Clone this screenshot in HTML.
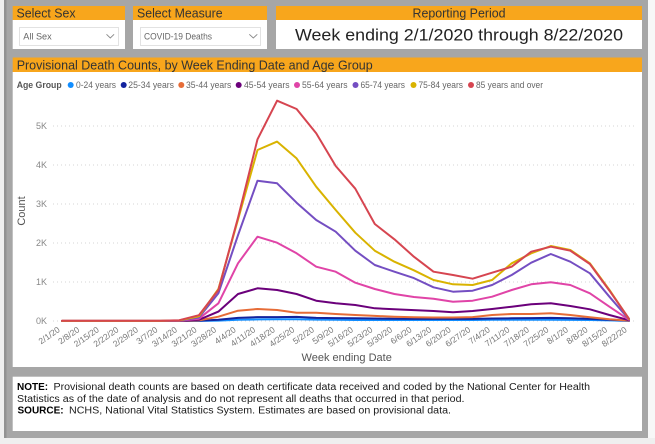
<!DOCTYPE html>
<html><head><meta charset="utf-8"><style>
html,body{margin:0;padding:0;background:#efefef;}
svg{display:block;font-family:"Liberation Sans",Arial,sans-serif;}
</style></head><body>
<svg width="655" height="444" viewBox="0 0 655 444" xmlns="http://www.w3.org/2000/svg">
<rect x="0" y="0" width="655" height="444" fill="#efefef"/>
<rect x="648" y="0" width="7" height="438" fill="#f7f7f7"/>
<rect x="4" y="0" width="644" height="438" fill="#a6a6a6"/>
<rect x="4" y="0" width="2.5" height="438" fill="#929292"/>

<!-- Select Sex -->
<rect x="12.7" y="6" width="112.3" height="14" fill="#f8a61c"/>
<rect x="12.7" y="20" width="112.3" height="29" fill="#ffffff"/>
<text x="16.5" y="17.7" font-size="13" fill="#333" textLength="59" lengthAdjust="spacingAndGlyphs">Select Sex</text>
<rect x="19.5" y="27.5" width="99" height="18" fill="#fff" stroke="#e2e2e2" stroke-width="1"/>
<text x="23.3" y="39.3" font-size="9" fill="#666" textLength="28.4" lengthAdjust="spacingAndGlyphs">All Sex</text>
<polyline points="106.5,34.3 110.3,38 114.1,34.3" fill="none" stroke="#888" stroke-width="0.9"/>

<!-- Select Measure -->
<rect x="133" y="6" width="134" height="14" fill="#f8a61c"/>
<rect x="133" y="20" width="134" height="29" fill="#ffffff"/>
<text x="137" y="17.7" font-size="13" fill="#333" textLength="85.6" lengthAdjust="spacingAndGlyphs">Select Measure</text>
<rect x="140.5" y="27.5" width="120" height="18" fill="#fff" stroke="#e2e2e2" stroke-width="1"/>
<text x="144" y="39.3" font-size="9" fill="#666" textLength="68" lengthAdjust="spacingAndGlyphs">COVID-19 Deaths</text>
<polyline points="249.3,34.3 253.3,38 257.3,34.3" fill="none" stroke="#888" stroke-width="0.9"/>

<!-- Reporting Period -->
<rect x="276" y="6" width="366" height="14" fill="#f8a61c"/>
<rect x="276" y="20" width="366" height="29" fill="#ffffff"/>
<text x="412.5" y="17.7" font-size="13" fill="#333" textLength="93" lengthAdjust="spacingAndGlyphs">Reporting Period</text>
<text x="295" y="40.3" font-size="17" fill="#222" textLength="328" lengthAdjust="spacingAndGlyphs">Week ending 2/1/2020 through 8/22/2020</text>

<!-- Chart panel -->
<rect x="12.7" y="57.5" width="629.3" height="14.5" fill="#f8a61c"/>
<rect x="12.7" y="72" width="629.3" height="295" fill="#ffffff"/>
<text x="16.7" y="69.5" font-size="13" fill="#333" textLength="356" lengthAdjust="spacingAndGlyphs">Provisional Death Counts, by Week Ending Date and Age Group</text>

<!-- Legend -->
<g font-size="9">
<text x="16.7" y="88" font-weight="bold" fill="#555" textLength="45" lengthAdjust="spacingAndGlyphs">Age Group</text>
<circle cx="70.7" cy="85" r="3" fill="#118dff"/>
<text x="76" y="88" fill="#666" textLength="40" lengthAdjust="spacingAndGlyphs">0-24 years</text>
<circle cx="123.7" cy="85" r="3" fill="#12239e"/>
<text x="128.3" y="88" fill="#666" textLength="45.7" lengthAdjust="spacingAndGlyphs">25-34 years</text>
<circle cx="181.3" cy="85" r="3" fill="#e66c37"/>
<text x="186" y="88" fill="#666" textLength="45.3" lengthAdjust="spacingAndGlyphs">35-44 years</text>
<circle cx="238.7" cy="85" r="3" fill="#6b007b"/>
<text x="244" y="88" fill="#666" textLength="45.5" lengthAdjust="spacingAndGlyphs">45-54 years</text>
<circle cx="297" cy="85" r="3" fill="#e044a7"/>
<text x="302" y="88" fill="#666" textLength="45.5" lengthAdjust="spacingAndGlyphs">55-64 years</text>
<circle cx="355.5" cy="85" r="3" fill="#744ec2"/>
<text x="360.5" y="88" fill="#666" textLength="44.5" lengthAdjust="spacingAndGlyphs">65-74 years</text>
<circle cx="413.5" cy="85" r="3" fill="#d9b300"/>
<text x="418.5" y="88" fill="#666" textLength="44.5" lengthAdjust="spacingAndGlyphs">75-84 years</text>
<circle cx="471" cy="85" r="3" fill="#d64550"/>
<text x="476" y="88" fill="#666" textLength="67" lengthAdjust="spacingAndGlyphs">85 years and over</text>
</g>

<!-- Gridlines -->
<g stroke="#d4d4d4" stroke-width="1" stroke-dasharray="1,3">
<line x1="53" y1="126" x2="637" y2="126"/>
<line x1="53" y1="165" x2="637" y2="165"/>
<line x1="53" y1="204" x2="637" y2="204"/>
<line x1="53" y1="243" x2="637" y2="243"/>
<line x1="53" y1="282" x2="637" y2="282"/>
<line x1="53" y1="321" x2="637" y2="321"/>
</g>
<g font-size="9" fill="#888" text-anchor="end">
<text x="47" y="129">5K</text>
<text x="47" y="168">4K</text>
<text x="47" y="207">3K</text>
<text x="47" y="246">2K</text>
<text x="47" y="285">1K</text>
<text x="47" y="324">0K</text>
</g>
<text transform="translate(25,211) rotate(-90)" text-anchor="middle" font-size="11" fill="#555">Count</text>
<text x="346.7" y="361" text-anchor="middle" font-size="11" fill="#555">Week ending Date</text>

<!-- X tick labels -->
<g font-size="8.5" fill="#777" text-anchor="end">
<text transform="translate(60.5,331) rotate(-35)">2/1/20</text>
<text transform="translate(80.1,331) rotate(-35)">2/8/20</text>
<text transform="translate(99.6,331) rotate(-35)">2/15/20</text>
<text transform="translate(119.2,331) rotate(-35)">2/22/20</text>
<text transform="translate(138.7,331) rotate(-35)">2/29/20</text>
<text transform="translate(158.3,331) rotate(-35)">3/7/20</text>
<text transform="translate(177.8,331) rotate(-35)">3/14/20</text>
<text transform="translate(197.4,331) rotate(-35)">3/21/20</text>
<text transform="translate(216.9,331) rotate(-35)">3/28/20</text>
<text transform="translate(236.5,331) rotate(-35)">4/4/20</text>
<text transform="translate(256,331) rotate(-35)">4/11/20</text>
<text transform="translate(275.6,331) rotate(-35)">4/18/20</text>
<text transform="translate(295.1,331) rotate(-35)">4/25/20</text>
<text transform="translate(314.7,331) rotate(-35)">5/2/20</text>
<text transform="translate(334.2,331) rotate(-35)">5/9/20</text>
<text transform="translate(353.8,331) rotate(-35)">5/16/20</text>
<text transform="translate(373.3,331) rotate(-35)">5/23/20</text>
<text transform="translate(392.9,331) rotate(-35)">5/30/20</text>
<text transform="translate(412.4,331) rotate(-35)">6/6/20</text>
<text transform="translate(432,331) rotate(-35)">6/13/20</text>
<text transform="translate(451.5,331) rotate(-35)">6/20/20</text>
<text transform="translate(471.1,331) rotate(-35)">6/27/20</text>
<text transform="translate(490.6,331) rotate(-35)">7/4/20</text>
<text transform="translate(510.2,331) rotate(-35)">7/11/20</text>
<text transform="translate(529.7,331) rotate(-35)">7/18/20</text>
<text transform="translate(549.3,331) rotate(-35)">7/25/20</text>
<text transform="translate(568.8,331) rotate(-35)">8/1/20</text>
<text transform="translate(588.4,331) rotate(-35)">8/8/20</text>
<text transform="translate(607.9,331) rotate(-35)">8/15/20</text>
<text transform="translate(627.5,331) rotate(-35)">8/22/20</text>
</g>

<!-- Series -->
<g fill="none" stroke-width="2" stroke-linejoin="round" stroke-linecap="round">
<polyline stroke="#118dff" points="62,321 81.6,321 101.1,321 120.7,321 140.2,321 159.8,321 179.3,321 198.9,320.9 218.4,320.6 238,319.8 257.5,319.4 277.1,319.2 296.6,319.2 316.2,319.6 335.7,319.8 355.3,320 374.8,320 394.4,320 413.9,320 433.5,320 453,320 472.6,320 492.1,319.8 511.7,319.8 531.2,319.8 550.8,319.8 570.3,319.9 589.9,320 609.4,320.4 629,320.9"/>
<polyline stroke="#12239e" points="62,321 81.6,321 101.1,321 120.7,321 140.2,321 159.8,321 179.3,321 198.9,320.7 218.4,319.8 238,317.9 257.5,317.1 277.1,317.1 296.6,316.9 316.2,317.9 335.7,318.1 355.3,318.3 374.8,318.5 394.4,318.7 413.9,318.9 433.5,318.9 453,318.9 472.6,318.9 492.1,318.5 511.7,318.3 531.2,318.1 550.8,317.9 570.3,318.3 589.9,318.9 609.4,319.8 629,320.8"/>
<polyline stroke="#e66c37" points="62,321 81.6,321 101.1,321 120.7,321 140.2,321 159.8,321 179.3,320.9 198.9,320.4 218.4,316.7 238,310.7 257.5,309 277.1,310 296.6,312.7 316.2,312.7 335.7,314 355.3,315 374.8,315.9 394.4,316.7 413.9,317.3 433.5,317.5 453,317.5 472.6,317.1 492.1,315 511.7,314 531.2,314 550.8,313.3 570.3,315 589.9,317.3 609.4,319.2 629,320.6"/>
<polyline stroke="#6b007b" points="62,321 81.6,321 101.1,321 120.7,321 140.2,321 159.8,321 179.3,320.8 198.9,319.8 218.4,311.6 238,294 257.5,288.3 277.1,290 296.6,294 316.2,300.7 335.7,303.3 355.3,305 374.8,308.3 394.4,309.3 413.9,310.1 433.5,311 453,312.3 472.6,311 492.1,309 511.7,306.7 531.2,304.3 550.8,303.3 570.3,306 589.9,309.3 609.4,315 629,320.2"/>
<polyline stroke="#e044a7" points="62,320.9 81.6,320.9 101.1,320.9 120.7,320.9 140.2,320.9 159.8,320.9 179.3,320.7 198.9,318.7 218.4,303.3 238,263.3 257.5,236.7 277.1,242.7 296.6,253.3 316.2,266.7 335.7,271.7 355.3,282.7 374.8,289 394.4,294 413.9,297 433.5,298.7 453,301.7 472.6,300.7 492.1,296.7 511.7,290 531.2,284.3 550.8,282.3 570.3,285 589.9,293.3 609.4,306.7 629,319.8"/>
<polyline stroke="#744ec2" points="62,320.9 81.6,320.9 101.1,320.9 120.7,320.9 140.2,320.9 159.8,320.9 179.3,320.6 198.9,317.5 218.4,293.3 238,235.2 257.5,180.7 277.1,183.3 296.6,202.7 316.2,220 335.7,231.7 355.3,250.7 374.8,265 394.4,271.7 413.9,278.1 433.5,287.3 453,291.7 472.6,290.7 492.1,285 511.7,275 531.2,262.7 550.8,254 570.3,261.7 589.9,273.3 609.4,296.7 629,319.4"/>
<polyline stroke="#d9b300" points="62,320.9 81.6,320.9 101.1,320.9 120.7,320.9 140.2,320.9 159.8,320.9 179.3,320.4 198.9,316.3 218.4,289 238,219.6 257.5,150 277.1,141.6 296.6,158.4 316.2,186.7 335.7,210 355.3,232.7 374.8,250.7 394.4,261.7 413.9,270.3 433.5,280 453,284.3 472.6,285 492.1,280 511.7,263.3 531.2,253.3 550.8,246 570.3,250 589.9,263.3 609.4,289.8 629,319.1"/>
<polyline stroke="#d64550" points="62,320.8 81.6,320.8 101.1,320.8 120.7,320.8 140.2,320.8 159.8,320.8 179.3,320.2 198.9,315.2 218.4,290 238,217.7 257.5,139.3 277.1,100.7 296.6,109 316.2,133.3 335.7,166 355.3,188.7 374.8,224 394.4,239.3 413.9,256.7 433.5,271.7 453,275 472.6,278.7 492.1,272.7 511.7,266.7 531.2,251.7 550.8,246.7 570.3,250.7 589.9,264 609.4,290.6 629,318.7"/>
</g>

<!-- Note box -->
<rect x="12.7" y="376.7" width="629.3" height="54.3" fill="#ffffff"/>
<g font-size="10" fill="#1a1a1a">
<text x="17" y="390" font-weight="bold" fill="#000">NOTE:</text>
<text x="53.5" y="390" textLength="536.5" lengthAdjust="spacingAndGlyphs">Provisional death counts are based on death certificate data received and coded by the National Center for Health</text>
<text x="17" y="402" textLength="447.5" lengthAdjust="spacingAndGlyphs">Statistics as of the date of analysis and do not represent all deaths that occurred in that period.</text>
<text x="17.5" y="413.5" font-weight="bold" fill="#000">SOURCE:</text>
<text x="69" y="413.5" textLength="382" lengthAdjust="spacingAndGlyphs">NCHS, National Vital Statistics System. Estimates are based on provisional data.</text>
</g>
</svg>
</body></html>
